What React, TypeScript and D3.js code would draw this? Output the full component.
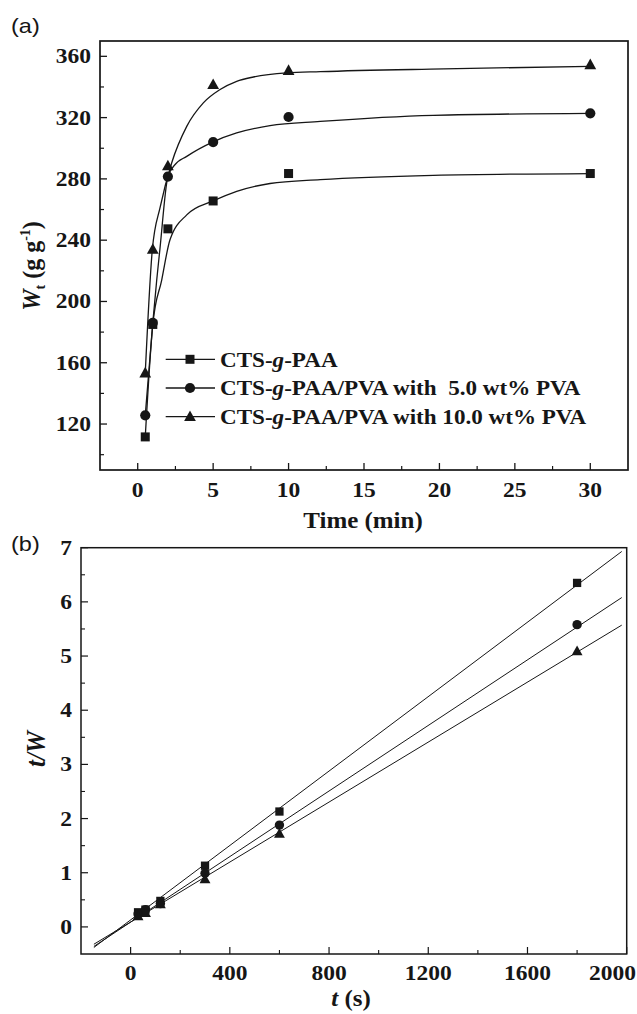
import React from "react";
import * as d3 from "d3";

// ---- Panel (a): swelling kinetics, Wt (g/g) vs time (min) ----
const timeMin = [0.5, 1, 2, 5, 10, 30];
const wSquare = [111.6, 185, 247.4, 265.6, 283.5, 283.5];
const wCircle = [125.7, 186, 281.5, 304, 320.4, 322.8];
const wTriangle = [153.3, 234, 288.5, 341.5, 350.7, 354.5];

// fitted kinetic curves, sampled as [t (min), Wt]
const fitSquare = [
  [0.5, 111.6], [1, 185], [1.59, 214], [2.14, 240.3], [3.25, 256.5], [5, 265.6],
  [6.56, 271.9], [8.77, 277.0], [12.1, 279.5], [19.6, 282.3], [30, 283.5],
];
const fitCircle = [
  [0.5, 125.7], [1, 186], [1.26, 214], [1.47, 234], [1.99, 281], [2.4, 288.5],
  [3.25, 294.7], [5, 304.2], [6.56, 310], [8.77, 314.8], [12.1, 317.5], [19.6, 321.5], [30, 322.8],
];
const fitTriangle = [
  [0.5, 153.3], [0.97, 234], [1.5, 262], [2.25, 290.4], [3.25, 314.3], [4.35, 329.6],
  [5.46, 338.3], [6.56, 343.7], [7.67, 346.5], [9.88, 349.2], [12.1, 350], [20.3, 351.8], [30, 353.5],
];

const topXTicks = [0, 5, 10, 15, 20, 25, 30];
const topXMinor = [2.5, 7.5, 12.5, 17.5, 22.5, 27.5];
const topYTicks = [120, 160, 200, 240, 280, 320, 360];
const topYMinor = [100, 140, 180, 220, 260, 300, 340];

const legendLabels = [
  "CTS-g-PAA",
  "CTS-g-PAA/PVA with  5.0 wt% PVA",
  "CTS-g-PAA/PVA with 10.0 wt% PVA",
];
const shapes = ["square", "circle", "triangle"];

// ---- Panel (b): pseudo-second-order plot, t/W vs t (s) ----
const timeSec = [30, 60, 120, 300, 600, 1800];
const twSquare = [0.27, 0.32, 0.48, 1.13, 2.13, 6.35];
const twCircle = [0.24, 0.32, 0.43, 0.99, 1.88, 5.58];
const twTriangle = [0.2, 0.26, 0.42, 0.88, 1.72, 5.09];

// linear fits t/W = a + b t
const fitSlope = [0.003435, 0.003026, 0.002768];
const fitIntercept = [0.129, 0.088, 0.09];
const fitRange = [-148, 1980];

const botXTicks = [0, 400, 800, 1200, 1600, 2000];
const botXMinor = [200, 600, 1000, 1400, 1800];
const botYTicks = [0, 1, 2, 3, 4, 5, 6, 7];
const botYMinor = [0.5, 1.5, 2.5, 3.5, 4.5, 5.5, 6.5];

const SERIF = "'Liberation Serif', 'Times New Roman', serif";
const SANS = "'Liberation Sans', Arial, sans-serif";
const INK = "#161616";

function Label({ x, y, anchor = "middle", size = 21, sx = 1.12, family = SERIF, weight = "bold", children }: any) {
  return (
    <text
      transform={`translate(${x},${y}) scale(${sx},1)`}
      textAnchor={anchor}
      fontSize={size}
      fontWeight={weight}
      fontFamily={family}
      fill={INK}
      style={{ whiteSpace: "pre" }}
    >
      {children}
    </text>
  );
}

function Marker({ shape, x, y, s = 1 }: any) {
  if (shape === "square") {
    const h = 4.5 * s;
    return <rect x={x - h} y={y - h} width={2 * h} height={2 * h} fill={INK} />;
  }
  if (shape === "circle") {
    return <circle cx={x} cy={y} r={5.1 * s} fill={INK} />;
  }
  const w = 5.9 * s;
  const p = d3.path();
  p.moveTo(x, y - 6.2 * s);
  p.lineTo(x + w, y + 4.4 * s);
  p.lineTo(x - w, y + 4.4 * s);
  p.closePath();
  return <path d={p.toString()} fill={INK} />;
}

function LegendText({ label, x, y }: any) {
  const parts = label.split("-g-");
  return (
    <Label x={x} y={y} anchor="start" size={21} sx={1.1}>
      {parts[0]}-<tspan fontStyle="italic">g</tspan>-{parts[1]}
    </Label>
  );
}

export default function App() {
  // panel (a) scales
  const xa = d3.scaleLinear().domain([-2.5, 32.5]).range([100, 628]);
  const ya = d3.scaleLinear().domain([90, 370]).range([470, 41]);
  // panel (b) scales
  const xb = d3.scaleLinear().domain([-200, 2000]).range([81, 626.7]);
  const yb = d3.scaleLinear().domain([-0.5, 7]).range([954, 547.7]);

  const curve = d3
    .line<number[]>()
    .x((d) => xa(d[0]))
    .y((d) => ya(d[1]))
    .curve(d3.curveMonotoneX);

  const topSeries = [wSquare, wCircle, wTriangle];
  const topFits = [fitSquare, fitCircle, fitTriangle];
  const botSeries = [twSquare, twCircle, twTriangle];

  const [xa0, xa1] = xa.range();
  const [ya0, ya1] = ya.range();
  const [xb0, xb1] = xb.range();
  const [yb0, yb1] = yb.range();
  const lastBotTick = botXTicks[botXTicks.length - 1];

  return (
    <svg
      width={637}
      height={1014}
      style={{ position: "absolute", left: 0, top: 0, background: "#fff" }}
    >
      <rect x={0} y={0} width={637} height={1014} fill="#fff" />

      {/* ===== panel (a) ===== */}
      <Label x={11} y={33} anchor="start" size={21} sx={1.12} family={SANS} weight="normal">
        (a)
      </Label>
      {/* ticks (inward) */}
      {topXTicks.map((t) => (
        <line key={"xa" + t} x1={xa(t)} x2={xa(t)} y1={ya0} y2={ya0 - 7} stroke={INK} strokeWidth={1.3} />
      ))}
      {topXMinor.map((t) => (
        <line key={"xam" + t} x1={xa(t)} x2={xa(t)} y1={ya0} y2={ya0 - 4} stroke={INK} strokeWidth={1.2} />
      ))}
      {topYTicks.map((t) => (
        <line key={"ya" + t} x1={xa0} x2={xa0 + 7} y1={ya(t)} y2={ya(t)} stroke={INK} strokeWidth={1.3} />
      ))}
      {topYMinor.map((t) => (
        <line key={"yam" + t} x1={xa0} x2={xa0 + 4} y1={ya(t)} y2={ya(t)} stroke={INK} strokeWidth={1.2} />
      ))}
      {topXTicks.map((t) => (
        <Label key={"xal" + t} x={xa(t)} y={497}>
          {String(t)}
        </Label>
      ))}
      {topYTicks.map((t) => (
        <Label key={"yal" + t} x={91} y={ya(t) + 7} anchor="end">
          {String(t)}
        </Label>
      ))}

      {/* fitted curves */}
      {topFits.map((f, i) => (
        <path key={"fa" + i} d={curve(f) || ""} fill="none" stroke={INK} strokeWidth={1.3} />
      ))}
      {/* data points */}
      {topSeries.map((s, i) =>
        s.map((v, j) => <Marker key={`ma${i}-${j}`} shape={shapes[i]} x={xa(timeMin[j])} y={ya(v)} />)
      )}

      {/* legend */}
      {legendLabels.map((lab, i) => {
        const y = 359.3 + i * 28.7;
        return (
          <g key={"lg" + i}>
            <line x1={165.7} x2={215} y1={y} y2={y} stroke={INK} strokeWidth={1.3} />
            <Marker shape={shapes[i]} x={190} y={y} />
            <LegendText label={lab} x={220} y={y + 7.2} />
          </g>
        );
      })}

      {/* frame */}
      <rect x={xa0} y={ya1} width={xa1 - xa0} height={ya0 - ya1} fill="none" stroke={INK} strokeWidth={1.7} />

      {/* axis titles */}
      <Label x={363} y={528} size={24} sx={1.04}>
        Time (min)
      </Label>
      <text
        transform="translate(40,266) rotate(-90) scale(1,1.08)"
        textAnchor="middle"
        fontSize={24}
        fontWeight="bold"
        fontFamily={SERIF}
        fill={INK}
        style={{ whiteSpace: "pre" }}
      >
        <tspan fontStyle="italic">W</tspan>
        <tspan fontSize={14} dy={5}>t</tspan>
        <tspan dy={-5}> (g g</tspan>
        <tspan fontSize={14} dy={-9}>-1</tspan>
        <tspan dy={9}>)</tspan>
      </text>

      {/* ===== panel (b) ===== */}
      <Label x={11} y={551} anchor="start" size={21} sx={1.12} family={SANS} weight="normal">
        (b)
      </Label>
      {botXTicks.map((t) => (
        <line key={"xb" + t} x1={xb(t)} x2={xb(t)} y1={yb0} y2={yb0 - 7} stroke={INK} strokeWidth={1.2} />
      ))}
      {botXMinor.map((t) => (
        <line key={"xbm" + t} x1={xb(t)} x2={xb(t)} y1={yb0} y2={yb0 - 4} stroke={INK} strokeWidth={1.1} />
      ))}
      {botYTicks.map((t) => (
        <line key={"yb" + t} x1={xb0} x2={xb0 + 7} y1={yb(t)} y2={yb(t)} stroke={INK} strokeWidth={1.2} />
      ))}
      {botYMinor.map((t) => (
        <line key={"ybm" + t} x1={xb0} x2={xb0 + 4} y1={yb(t)} y2={yb(t)} stroke={INK} strokeWidth={1.1} />
      ))}
      {botXTicks.map((t) =>
        t === lastBotTick ? (
          // last label sits flush with the right edge of the figure
          <Label key={"xbl" + t} x={636} y={980} anchor="end">
            {String(t)}
          </Label>
        ) : (
          <Label key={"xbl" + t} x={xb(t)} y={980}>
            {String(t)}
          </Label>
        )
      )}
      {botYTicks.map((t) => (
        <Label key={"ybl" + t} x={72} y={yb(t) + 7} anchor="end">
          {String(t)}
        </Label>
      ))}

      {/* linear fits */}
      {fitSlope.map((b, i) => (
        <line
          key={"fb" + i}
          x1={xb(fitRange[0])}
          y1={yb(fitIntercept[i] + b * fitRange[0])}
          x2={xb(fitRange[1])}
          y2={yb(fitIntercept[i] + b * fitRange[1])}
          stroke={INK}
          strokeWidth={1}
        />
      ))}
      {botSeries.map((s, i) =>
        s.map((v, j) => (
          <Marker key={`mb${i}-${j}`} shape={shapes[i]} x={xb(timeSec[j])} y={yb(v)} s={0.92} />
        ))
      )}

      <rect x={xb0} y={yb1} width={xb1 - xb0} height={yb0 - yb1} fill="none" stroke={INK} strokeWidth={1.5} />

      <Label x={351} y={1006} size={24} sx={1.04}>
        <tspan fontStyle="italic">t</tspan> (s)
      </Label>
      <text
        transform="translate(45,749) rotate(-90) scale(1,1.08)"
        textAnchor="middle"
        fontSize={25}
        fontWeight="bold"
        fontStyle="italic"
        fontFamily={SERIF}
        fill={INK}
      >
        t/W
      </text>
    </svg>
  );
}
